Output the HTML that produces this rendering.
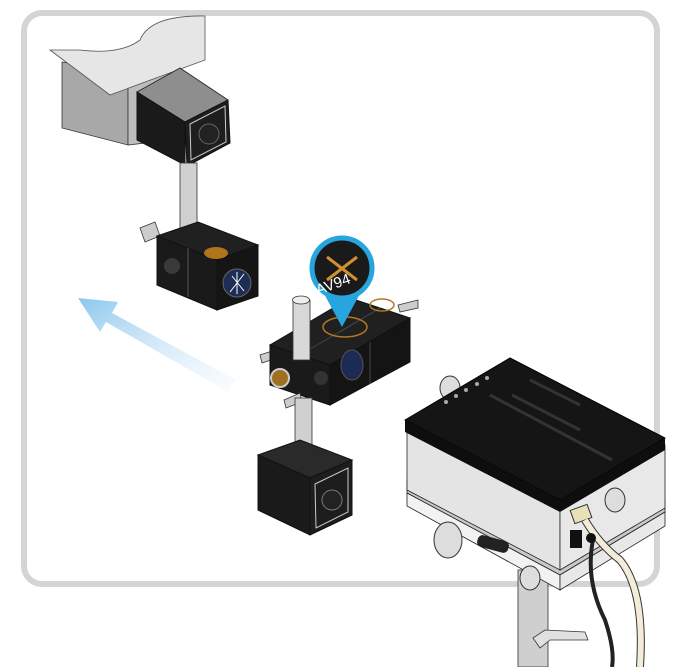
<!DOCTYPE html>
<html><head><style>body{margin:0;background:#fff}svg{display:block}</style></head><body>
<svg width="681" height="667" viewBox="0 0 681 667" xmlns="http://www.w3.org/2000/svg">
<defs>
<linearGradient id="ar" x1="1" y1="1" x2="0" y2="0"><stop offset="0" stop-color="#e4f2fc" stop-opacity="0.2"/><stop offset="1" stop-color="#8cc6ee"/></linearGradient>
</defs>
<rect x="24" y="13" width="633" height="571" rx="18" fill="#fff" stroke="#d4d4d4" stroke-width="6"/>
<!-- top-left apparatus -->
<polygon points="62,62 128,72 128,145 62,128" fill="#a8a8a8" stroke="#333" stroke-width="0.8"/>
<polygon points="128,72 170,72 170,140 128,145" fill="#bdbdbd" stroke="#333" stroke-width="0.8"/>
<path d="M50,50 L110,95 L205,60 L205,16 Q150,15 140,40 Q120,55 80,50 Z" fill="#e6e6e6" stroke="#555" stroke-width="0.8"/>
<polygon points="137,92 180,68 228,100 185,122" fill="#8e8e8e" stroke="#222" stroke-width="0.8"/>
<polygon points="137,92 185,122 185,165 137,140" fill="#1a1a1a" stroke="#111"/>
<polygon points="185,122 228,100 230,143 187,166" fill="#1e1e1e" stroke="#111"/>
<polygon points="190,124 225,106 226,142 191,160" fill="none" stroke="#ccc" stroke-width="1"/>
<circle cx="209" cy="134" r="10" fill="#222" stroke="#666"/>
<rect x="180" y="163" width="17" height="78" fill="#d0d0d0" stroke="#333" stroke-width="0.8"/>
<!-- lower left cubes -->
<polygon points="140,228 155,222 160,236 145,242" fill="#ccc" stroke="#333" stroke-width="0.8"/>
<polygon points="157,236 198,222 258,245 217,260" fill="#202020" stroke="#111"/>
<polygon points="157,236 217,260 217,310 157,285" fill="#1a1a1a" stroke="#111"/>
<polygon points="217,260 258,245 258,296 217,310" fill="#151515" stroke="#111"/>
<line x1="188" y1="248" x2="188" y2="297" stroke="#555"/>
<circle cx="172" cy="266" r="8" fill="#3a3a3a"/>
<circle cx="237" cy="283" r="14" fill="#1d2d55" stroke="#666"/>
<path d="M230,292 L244,274 M232,276 L244,291 M237,272 L237,294" stroke="#fff" stroke-width="1"/>
<ellipse cx="216" cy="253" rx="12" ry="6" fill="#b0741a"/>
<!-- arrow -->
<polygon points="236,380 112,313 118,302 78,298 100,332 106,322 228,392" fill="url(#ar)"/>
<!-- middle assembly -->
<polygon points="260,355 275,350 277,358 262,363" fill="#ccc" stroke="#333" stroke-width="0.8"/>
<polygon points="398,305 418,300 418,308 400,312" fill="#ccc" stroke="#333" stroke-width="0.8"/>
<polygon points="270,345 330,365 410,318 350,298" fill="#202020" stroke="#111"/>
<polygon points="270,345 330,365 330,405 270,385" fill="#1a1a1a" stroke="#111"/>
<polygon points="330,365 410,318 410,362 330,405" fill="#141414" stroke="#111"/>
<line x1="370" y1="342" x2="370" y2="384" stroke="#444"/>
<line x1="300" y1="355" x2="380" y2="308" stroke="#444"/>
<line x1="340" y1="332" x2="380" y2="308" stroke="#444"/>
<ellipse cx="345" cy="327" rx="22" ry="10" fill="none" stroke="#b07820" stroke-width="1.5"/>
<ellipse cx="382" cy="305" rx="12" ry="6" fill="none" stroke="#b07820" stroke-width="1.5"/>
<ellipse cx="352" cy="365" rx="11" ry="15" fill="#1d2a55" stroke="#555"/>
<circle cx="321" cy="378" r="7" fill="#333"/>
<circle cx="280" cy="378" r="9" fill="#a07020" stroke="#ccc" stroke-width="2"/>
<polygon points="284,400 300,393 302,402 286,408" fill="#ccc" stroke="#333" stroke-width="0.8"/>
<rect x="293" y="300" width="17" height="60" fill="#d8d8d8" stroke="#333" stroke-width="0.8"/>
<ellipse cx="301" cy="300" rx="8.5" ry="4" fill="#eee" stroke="#333" stroke-width="0.8"/>
<rect x="295" y="398" width="17" height="55" fill="#d0d0d0" stroke="#333" stroke-width="0.8"/>
<polygon points="258,455 300,440 352,460 310,478" fill="#2a2a2a" stroke="#111"/>
<polygon points="258,455 310,478 310,535 258,510" fill="#1a1a1a" stroke="#111"/>
<polygon points="310,478 352,460 352,515 310,535" fill="#1d1d1d" stroke="#111"/>
<polygon points="315,484 348,468 348,512 316,528" fill="none" stroke="#ccc"/>
<circle cx="332" cy="500" r="10" fill="#222" stroke="#777"/>
<!-- callout -->
<path d="M322,290 L342,327 L362,290 Z" fill="#27a5df"/>
<circle cx="342" cy="268" r="30" fill="#1a1a1a" stroke="#27a5df" stroke-width="5"/>
<path d="M327,257 L357,280 M357,257 L327,280" stroke="#d09030" stroke-width="3"/>
<text x="315" y="292" font-family="Liberation Sans, sans-serif" font-size="15" fill="#fff" transform="rotate(-20 325 285)">AV94</text>
<!-- right device -->
<rect x="518" y="570" width="30" height="97" fill="#cfcfcf" stroke="#333" stroke-width="0.8"/>
<path d="M533,638 L545,630 L585,632 L588,640 L550,640 L540,648 Z" fill="#e0e0e0" stroke="#333" stroke-width="0.8"/>
<polygon points="407,480 560,560 665,500 665,512 560,575 407,493" fill="#c8c8c8" stroke="#222" stroke-width="0.8"/>
<polygon points="407,493 560,575 560,590 407,506" fill="#f2f2f2" stroke="#222" stroke-width="0.8"/>
<polygon points="560,575 665,512 665,526 560,590" fill="#e8e8e8" stroke="#222" stroke-width="0.8"/>
<ellipse cx="448" cy="540" rx="14" ry="18" fill="#ddd" stroke="#333"/>
<ellipse cx="530" cy="578" rx="10" ry="12" fill="#ddd" stroke="#333"/>
<rect x="477" y="538" width="32" height="12" rx="5" fill="#222" transform="rotate(15 493 544)"/>
<polygon points="407,430 560,505 560,570 407,490" fill="#e4e4e4" stroke="#222" stroke-width="0.8"/>
<polygon points="560,505 665,445 665,508 560,570" fill="#e8e8e8" stroke="#222" stroke-width="0.8"/>
<ellipse cx="615" cy="500" rx="10" ry="12" fill="#ddd" stroke="#333"/>
<ellipse cx="450" cy="388" rx="10" ry="12" fill="#ddd" stroke="#333"/>
<polygon points="405,420 510,358 665,438 560,500" fill="#151515" stroke="#000"/>
<polygon points="405,420 560,500 560,512 405,432" fill="#0e0e0e"/>
<polygon points="560,500 665,438 665,450 560,512" fill="#0e0e0e"/>
<path d="M490,395 L612,460 M512,395 L580,430 M530,380 L580,405" stroke="#333" stroke-width="3"/>
<circle cx="446" cy="402" r="2" fill="#aaa"/><circle cx="456" cy="396" r="2" fill="#aaa"/><circle cx="466" cy="390" r="2" fill="#aaa"/><circle cx="477" cy="384" r="2" fill="#aaa"/><circle cx="487" cy="378" r="2" fill="#aaa"/>
<rect x="570" y="530" width="12" height="18" fill="#111"/>
<rect x="572" y="507" width="18" height="14" fill="#e9dfb8" stroke="#333" transform="rotate(-20 581 514)"/>
<path d="M585,520 Q600,545 620,560 Q645,590 640,667" stroke="#333" stroke-width="8" fill="none"/>
<path d="M585,520 Q600,545 620,560 Q645,590 640,667" stroke="#f2ecd8" stroke-width="6" fill="none"/>
<path d="M593,540 Q585,580 605,620 Q615,650 612,667" stroke="#222" stroke-width="4" fill="none"/>
<circle cx="591" cy="538" r="5" fill="#111"/>
</svg>
</body></html>
